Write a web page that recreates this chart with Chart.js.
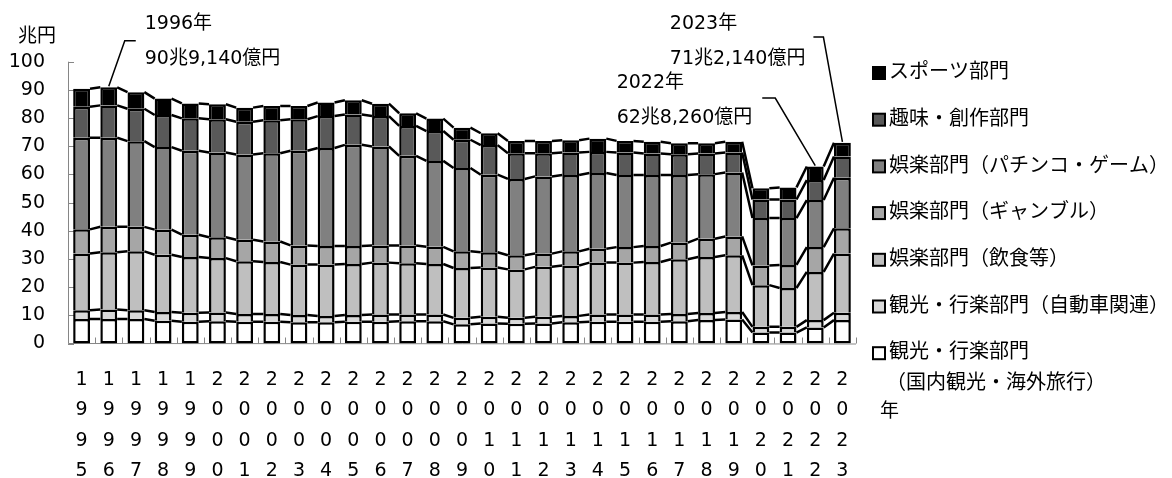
<!DOCTYPE html>
<html lang="ja">
<head>
<meta charset="utf-8">
<script src="https://cdn.jsdelivr.net/npm/chart.js@4.4.1/dist/chart.umd.min.js"></script>
<style>
  html, body { margin: 0; padding: 0; background: #fff; }
</style>
</head>
<body>
<canvas id="chart" width="1172" height="478"></canvas>
<script>
// leisure market by sector, 兆円

const years = ['1995','1996','1997','1998','1999','2000','2001','2002','2003','2004',
  '2005','2006','2007','2008','2009','2010','2011','2012','2013','2014',
  '2015','2016','2017','2018','2019','2020','2021','2022','2023'];

const kankoDomestic = [8.7,8.7,8.7,8.1,7.7,7.9,7.7,7.7,7.5,7.5,7.7,7.7,7.9,7.9,6.8,7.1,7.0,7.1,7.5,7.7,7.7,7.7,7.9,8.3,8.5,3.9,3.9,5.7,8.3];
const kankoCar      = [3.1,3.4,3.1,3.1,3.2,3.1,2.8,2.8,2.6,2.3,2.4,2.6,2.4,2.4,2.3,2.4,2.1,2.4,2.3,2.6,2.6,2.6,2.6,2.5,2.7,2.0,2.0,2.6,2.6];
const gorakuFood    = [20.1,20.3,20.9,20.3,19.8,19.3,18.7,18.4,17.9,18.2,18.1,18.4,18.2,17.9,17.7,17.5,17.2,17.7,17.9,18.4,18.4,18.6,19.4,19.9,20.1,14.8,13.8,17.1,21.0];
const gorakuGamble  = [8.6,9.0,8.7,8.9,7.9,7.4,7.6,7.3,6.8,6.6,6.4,6.1,6.3,6.1,5.9,5.4,5.0,4.7,5.0,4.9,5.5,5.7,5.9,6.5,6.7,7.0,8.2,8.8,9.0];
const gorakuPachinko= [32.5,31.6,30.4,29.3,29.8,30.1,30.3,31.3,33.6,34.8,35.9,35.1,31.8,30.5,29.6,27.5,27.1,27.4,27.1,26.9,25.6,25.2,24.0,22.9,22.7,16.8,16.6,16.7,17.9];
const shumi         = [11.0,11.5,11.5,11.4,11.5,11.8,11.6,11.7,11.2,11.3,10.8,10.8,10.6,10.6,10.0,10.5,9.1,8.2,8.0,7.5,8.0,7.6,7.4,7.3,7.1,6.6,6.6,7.1,7.6];
const sports        = [6.4,6.4,5.9,5.8,5.3,5.3,5.0,5.1,4.7,4.8,5.0,4.4,4.5,4.4,4.3,4.2,4.4,4.4,4.3,4.7,4.1,4.2,3.9,3.7,3.8,4.0,4.3,4.8,4.8];

const yTicks = [0,10,20,30,40,50,60,70,80,90,100];

const notes = [
  { idx: 1,  year: '1996年', amount: '90兆9,140億円' },
  { idx: 27, year: '2022年', amount: '62兆8,260億円' },
  { idx: 28, year: '2023年', amount: '71兆2,140億円' }
];

const FONT = '"DejaVu Sans", "Noto Sans CJK JP", sans-serif';

function totalAt(chart, i) {
  let s = 0;
  chart.data.datasets.forEach(ds => { s += ds.data[i]; });
  return s;
}

const decor = {
  id: 'decor',
  beforeDatasetsDraw(chart) {
    const ctx = chart.ctx;
    const a = chart.chartArea;
    const y = chart.scales.y;
    ctx.save();
    ctx.strokeStyle = '#868686';
    ctx.lineWidth = 1;
    ctx.beginPath();
    ctx.moveTo(a.left + 0.5, y.getPixelForValue(100));
    ctx.lineTo(a.left + 0.5, y.getPixelForValue(0));
    ctx.lineTo(a.right, y.getPixelForValue(0) + 0.5);
    yTicks.forEach(v => {
      const py = Math.round(y.getPixelForValue(v)) + 0.5;
      ctx.moveTo(a.left, py);
      ctx.lineTo(a.left + 6, py);
    });
    const step = (a.right - a.left) / years.length;
    for (let k = 0; k <= years.length; k++) {
      const px = Math.round(a.left + k * step) + 0.5;
      ctx.moveTo(px, a.bottom);
      ctx.lineTo(px, a.bottom - 6);
    }
    ctx.stroke();
    ctx.restore();
  },
  afterDatasetsDraw(chart) {
    // series lines joining the segment tops
    const ctx = chart.ctx;
    ctx.save();
    ctx.strokeStyle = '#000';
    ctx.lineWidth = 2.5;
    chart.data.datasets.forEach((ds, d) => {
      const els = chart.getDatasetMeta(d).data;
      ctx.beginPath();
      for (let i = 0; i < els.length - 1; i++) {
        const p = els[i], q = els[i + 1];
        ctx.moveTo(p.x + p.width / 2, p.y);
        ctx.lineTo(q.x - q.width / 2, q.y);
      }
      ctx.stroke();
    });
    ctx.restore();
  },
  afterDraw(chart) {
    const ctx = chart.ctx;
    const a = chart.chartArea;
    const x = chart.scales.x, y = chart.scales.y;
    ctx.save();
    ctx.fillStyle = '#000';
    ctx.font = '19px ' + FONT;
    ctx.textBaseline = 'middle';
    ctx.textAlign = 'left';

    ctx.fillText('兆円', 18, a.top - 25);
    ctx.fillText('年', a.right + 24, 412);

    // legend (reverse order)
    ctx.font = '20px ' + FONT;
    const ds = chart.data.datasets.slice().reverse();
    ds.forEach((d, k) => {
      const cy = 73 + k * 46.7;
      ctx.fillStyle = d.backgroundColor;
      ctx.fillRect(873, cy - 6, 12, 12);
      ctx.strokeStyle = '#000';
      ctx.lineWidth = 2;
      ctx.strokeRect(873, cy - 6, 12, 12);
      ctx.fillStyle = '#000';
      const lines = Array.isArray(d.label) ? d.label : [d.label];
      lines.forEach((t, j) => ctx.fillText(t, j === 0 ? 889 : 886, cy + j * 31));
    });

    // call-outs
    ctx.font = '19px ' + FONT;
    ctx.strokeStyle = '#000';
    ctx.lineWidth = 1.5;
    notes.forEach(n => {
      const bx = x.getPixelForValue(n.idx);
      const by = y.getPixelForValue(totalAt(chart, n.idx));
      ctx.beginPath();
      if (n.idx === 1) {
        ctx.moveTo(bx, by - 1);
        ctx.lineTo(bx + 16, a.top - 21);
        ctx.lineTo(bx + 27, a.top - 21);
        ctx.stroke();
        ctx.fillText(n.year, bx + 36, 24);
        ctx.fillText(n.amount, bx + 36, 59);
      } else if (n.idx === 27) {
        ctx.moveTo(bx, by - 1);
        ctx.lineTo(bx - 40, 98);
        ctx.lineTo(bx - 53, 98);
        ctx.stroke();
        const left = bx - 63 - ctx.measureText(n.amount).width;
        ctx.fillText(n.year, left, 83);
        ctx.fillText(n.amount, left, 118);
      } else {
        ctx.moveTo(bx, by - 1);
        ctx.lineTo(bx - 19, 37);
        ctx.lineTo(bx - 29, 37);
        ctx.stroke();
        const left = bx - 37 - ctx.measureText(n.amount).width;
        ctx.fillText(n.year, left, 24);
        ctx.fillText(n.amount, left, 59);
      }
    });
    ctx.restore();
  }
};

function bar(label, data, color, skip) {
  return {
    label: label,
    data: data,
    backgroundColor: color,
    borderColor: '#000',
    borderWidth: 2.5,
    borderSkipped: skip,
    categoryPercentage: 1,
    barPercentage: 0.62
  };
}

const ctx = document.getElementById('chart').getContext('2d');
const myChart = new Chart(ctx, {
  type: 'bar',
  data: {
    labels: years.map(s => s.split('')),
    datasets: [
      bar(['観光・行楽部門', '（国内観光・海外旅行）'], kankoDomestic, '#ffffff', false),
      bar('観光・行楽部門（自動車関連）', kankoCar, '#d9d9d9', 'start'),
      bar('娯楽部門（飲食等）', gorakuFood, '#bfbfbf', 'start'),
      bar('娯楽部門（ギャンブル）', gorakuGamble, '#a6a6a6', 'start'),
      bar('娯楽部門（パチンコ・ゲーム）', gorakuPachinko, '#808080', 'start'),
      bar('趣味・創作部門', shumi, '#595959', 'start'),
      bar('スポーツ部門', sports, '#000000', 'start')
    ]
  },
  options: {
    responsive: false,
    animation: false,
    layout: { padding: { top: 61.7, left: 0, right: 316, bottom: 0 } },
    plugins: {
      legend: { display: false },
      tooltip: { enabled: false }
    },
    scales: {
      x: {
        stacked: true,
        grid: { display: false, drawTicks: false },
        border: { display: false },
        ticks: {
          color: '#000',
          autoSkip: false,
          maxRotation: 0,
          padding: 21,
          font: { family: FONT, size: 19, lineHeight: 30.5 / 19 }
        },
        afterFit(s) { s.height = 134.5; }
      },
      y: {
        stacked: true,
        min: 0,
        max: 100,
        grid: { display: false, drawTicks: false },
        border: { display: false },
        ticks: {
          color: '#000',
          stepSize: 10,
          padding: 23,
          font: { family: FONT, size: 19 }
        },
        afterFit(s) { s.width = 68; }
      }
    }
  },
  plugins: [decor]
});
</script>
</body>
</html>
